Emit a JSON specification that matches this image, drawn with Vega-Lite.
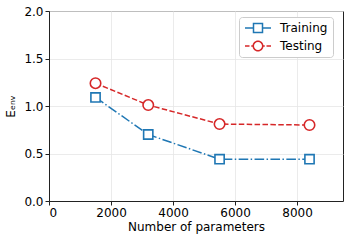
{
  "$schema": "https://vega.github.io/schema/vega-lite/v6.json",
  "width": 294,
  "height": 190,
  "autosize": "none",
  "padding": {"left": 49, "top": 11, "right": 6, "bottom": 41},
  "config": {
    "font": "DejaVu Sans",
    "view": {"stroke": "#222222", "strokeWidth": 1},
    "axis": {
      "labelFontSize": 12,
      "titleFontSize": 12,
      "titleFontWeight": "normal",
      "labelColor": "black",
      "titleColor": "black",
      "tickColor": "#222222",
      "domainColor": "#222222",
      "tickSize": 4,
      "labelPadding": 2,
      "gridColor": "#e6e6e6",
      "gridWidth": 0.8
    },
    "legend": {
      "title": null,
      "orient": "none",
      "legendX": 190,
      "legendY": 6,
      "fillColor": "white",
      "strokeColor": "#cccccc",
      "cornerRadius": 3,
      "padding": 5,
      "symbolSize": 100,
      "symbolOffset": 8,
      "labelOffset": 16,
      "symbolStrokeWidth": 0,
      "symbolOpacity": 1,
      "labelFontSize": 12,
      "labelColor": "black",
      "rowPadding": 6
    }
  },
  "data": {
    "values": [
      {"x": 1500, "y": 1.09, "s": "Training"},
      {"x": 3200, "y": 0.70, "s": "Training"},
      {"x": 5500, "y": 0.44, "s": "Training"},
      {"x": 8400, "y": 0.44, "s": "Training"},
      {"x": 1500, "y": 1.24, "s": "Testing"},
      {"x": 3200, "y": 1.01, "s": "Testing"},
      {"x": 5500, "y": 0.81, "s": "Testing"},
      {"x": 8400, "y": 0.80, "s": "Testing"}
    ]
  },
  "encoding": {
    "x": {
      "field": "x", "type": "quantitative",
      "scale": {"domain": [0, 9480], "nice": false, "zero": false},
      "axis": {"values": [0, 2000, 4000, 6000, 8000], "format": "d", "title": "Number of parameters", "titlePadding": 3}
    },
    "y": {
      "field": "y", "type": "quantitative",
      "scale": {"domain": [0, 2], "nice": false},
      "axis": {"values": [0, 0.5, 1, 1.5, 2], "format": ".1f", "title": "Eₑₙᵥ", "titlePadding": 6}
    }
  },
  "layer": [
    {
      "mark": {"type": "line", "strokeWidth": 1.5},
      "encoding": {
        "stroke": {
          "field": "s", "type": "nominal",
          "scale": {"range": ["#d62728", "#1f77b4"]},
          "legend": null
        },
        "strokeDash": {
          "field": "s", "type": "nominal",
          "scale": {"range": [[5.5, 2.4], [9.6, 2.4, 1.5, 2.4]]},
          "legend": null
        }
      }
    },
    {
      "transform": [{"filter": "datum.s === 'Training'"}],
      "mark": {"type": "point", "shape": "square", "filled": false, "fill": "white", "fillOpacity": 1, "strokeWidth": 1.6, "size": 85, "opacity": 1},
      "encoding": {"stroke": {"field": "s", "type": "nominal", "legend": null}}
    },
    {
      "transform": [{"filter": "datum.s === 'Testing'"}],
      "mark": {"type": "point", "shape": "circle", "filled": false, "fill": "white", "fillOpacity": 1, "strokeWidth": 1.6, "size": 110, "opacity": 1},
      "encoding": {"stroke": {"field": "s", "type": "nominal", "legend": null}}
    },
    {
      "mark": {"type": "point", "opacity": 0, "filled": true},
      "encoding": {
        "fill": {
          "field": "s", "type": "nominal",
          "scale": {"domain": ["Training", "Testing"], "range": ["#1f77b4", "#d62728"]},
          "legend": {"title": null}
        },
        "shape": {
          "field": "s", "type": "nominal",
          "scale": {
            "domain": ["Training", "Testing"],
            "range": [
              "M-2.6,-0.15H-1.05V0.15H-2.6Z M1.05,-0.15H2.6V0.15H1.05Z M-1.05,-1.05H1.05V1.05H-1.05Z M-0.75,-0.75V0.75H0.75V-0.75Z",
              "M-2.6,-0.15H-1.7V0.15H-2.6Z M-1.35,-0.15H-1.05V0.15H-1.35Z M1.05,-0.15H1.35V0.15H1.05Z M1.7,-0.15H2.6V0.15H1.7Z M1.1,0A1.1,1.1 0 1,1 -1.1,0A1.1,1.1 0 1,1 1.1,0Z M0.8,0A0.8,0.8 0 1,0 -0.8,0A0.8,0.8 0 1,0 0.8,0Z"
            ]
          },
          "legend": {"title": null}
        }
      }
    }
  ]
}
